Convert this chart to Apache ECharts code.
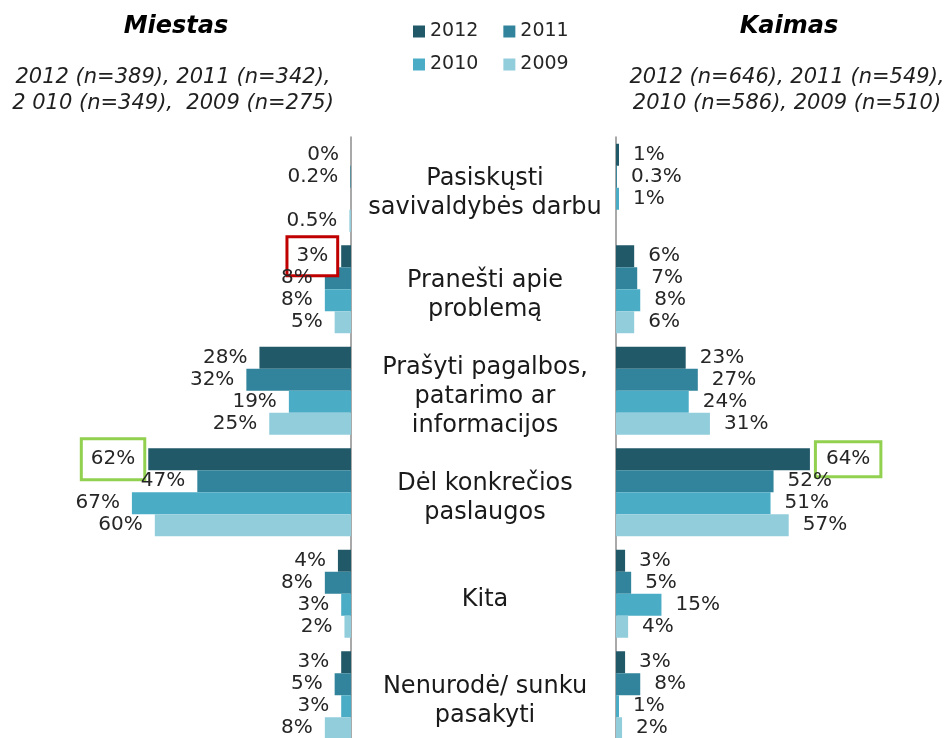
<!DOCTYPE html>
<html><head><meta charset="utf-8">
<script src="https://cdn.jsdelivr.net/npm/echarts@6/dist/echarts.min.js"></script>
<style>html,body{margin:0;padding:0;overflow:hidden;background:#fff}#c{width:951px;height:752px}</style>
</head><body><div id="c"></div>
<script>
const categories = [
  'Pasiskųsti\nsavivaldybės darbu',
  'Pranešti apie\nproblemą',
  'Prašyti pagalbos,\npatarimo ar\ninformacijos',
  'Dėl konkrečios\npaslaugos',
  'Kita',
  'Nenurodė/ sunku\npasakyti'
];
const years = ['2012', '2011', '2010', '2009'];
const miestas2012 = [0, 3, 28, 62, 4, 3];
const miestas2011 = [0.2, 8, 32, 47, 8, 5];
const miestas2010 = [null, 8, 19, 67, 3, 3];
const miestas2009 = [0.5, 5, 25, 60, 2, 8];
const kaimas2012 = [1, 6, 23, 64, 3, 3];
const kaimas2011 = [0.3, 7, 27, 52, 5, 8];
const kaimas2010 = [1, 8, 24, 51, 15, 1];
const kaimas2009 = [null, 6, 31, 57, 4, 2];
const miestasTitle = 'Miestas';
const miestasSub = ['2012 (n=389), 2011 (n=342),', '2 010 (n=349),  2009 (n=275)'];
const kaimasTitle = 'Kaimas';
const kaimasSub = ['2012 (n=646), 2011 (n=549),', '2010 (n=586), 2009 (n=510)'];
// highlighted labels: [side, yearIndex, categoryIndex, colour]
const highlights = [
  ['miestas', 0, 1, '#c00000'],
  ['miestas', 0, 3, '#92d050'],
  ['kaimas', 0, 3, '#92d050']
];

const colors = ['#215968', '#31849b', '#4bacc6', '#92cddc'];
const FONT = 'DejaVu Sans';
const miestas = [miestas2012, miestas2011, miestas2010, miestas2009];
const kaimas = [kaimas2012, kaimas2011, kaimas2010, kaimas2009];

function buildData(side, yi, arr) {
  return arr.map((v, ci) => {
    const h = highlights.find(x => x[0] === side && x[1] === yi && x[2] === ci);
    if (!h) return v;
    let pad, dist;
    if (side === 'miestas' && ci === 1) { pad = [8, 8, 8, 8]; dist = 5; }
    else if (side === 'miestas') { pad = [9, 8, 9, 8]; dist = 5; }
    else { pad = [6, 9, 6, 9]; dist = 7; }
    return {
      value: v,
      label: { borderColor: h[3], borderWidth: 3, padding: pad, distance: dist, backgroundColor: '#fff' }
    };
  });
}

const series = [];
years.forEach((y, i) => {
  series.push({
    name: y, type: 'bar', xAxisIndex: 0, yAxisIndex: 0,
    data: buildData('miestas', i, miestas[i]),
    itemStyle: { color: colors[i] },
    barGap: '0%', barCategoryGap: '13.3%',
    label: { show: true, position: 'left', distance: 12, formatter: p => p.value + '%',
      fontFamily: FONT, fontSize: 20, color: '#262626' }
  });
});
years.forEach((y, i) => {
  series.push({
    name: y, type: 'bar', xAxisIndex: 1, yAxisIndex: 1,
    data: buildData('kaimas', i, kaimas[i]),
    itemStyle: { color: colors[i] },
    barGap: '0%', barCategoryGap: '13.3%',
    label: { show: true, position: 'right', distance: 14, formatter: p => p.value + '%',
      fontFamily: FONT, fontSize: 20, color: '#262626' }
  });
});

const chart = echarts.init(document.getElementById('c'));
const legendCommon = {
  padding: 0, itemWidth: 12, itemHeight: 12, itemGap: 25, icon: 'rect',
  textStyle: { fontFamily: FONT, fontSize: 19, color: '#262626' },
  selectedMode: false
};
chart.setOption({
  animation: false,
  color: colors,
  legend: [
    Object.assign({}, legendCommon, { left: 413, top: 22, data: years.slice(0, 2) }),
    Object.assign({}, legendCommon, { left: 413, top: 55, data: years.slice(2, 4) })
  ],
  graphic: [
    { type: 'text', x: 176, y: 27, style: { text: miestasTitle, textAlign: 'center', textVerticalAlign: 'middle',
      font: 'italic bold 24px "DejaVu Sans"', fill: '#000' } },
    { type: 'text', x: 789, y: 27, style: { text: kaimasTitle, textAlign: 'center', textVerticalAlign: 'middle',
      font: 'italic bold 24px "DejaVu Sans"', fill: '#000' } },
    { type: 'text', x: 173, y: 91, style: { text: miestasSub.join('\n'), textAlign: 'center', textVerticalAlign: 'middle',
      font: 'italic 21px "DejaVu Sans"', lineHeight: 26, fill: '#1f1f1f' } },
    { type: 'text', x: 787, y: 91, style: { text: kaimasSub.join('\n'), textAlign: 'center', textVerticalAlign: 'middle',
      font: 'italic 21px "DejaVu Sans"', lineHeight: 26, fill: '#1f1f1f' } }
  ],
  grid: [
    { left: 24, width: 327, top: 137, height: 609 },
    { left: 616, width: 303, top: 137, height: 609 },
    { left: 616, width: 303, top: 143, height: 609 }
  ],
  xAxis: [
    { gridIndex: 0, type: 'value', min: 0, max: 100, inverse: true, show: false },
    { gridIndex: 1, type: 'value', min: 0, max: 100, show: false },
    { gridIndex: 2, type: 'value', min: 0, max: 100, show: false }
  ],
  yAxis: [
    { gridIndex: 0, type: 'category', data: categories, inverse: true, position: 'right',
      axisLine: { show: true, lineStyle: { color: '#8c8c8c', width: 1.5 } },
      axisTick: { show: false }, axisLabel: { show: false } },
    { gridIndex: 1, type: 'category', data: categories, inverse: true, position: 'left',
      axisLine: { show: true, lineStyle: { color: '#8c8c8c', width: 1.5 } },
      axisTick: { show: false }, axisLabel: { show: false } },
    { gridIndex: 2, type: 'category', data: categories, inverse: true, position: 'left',
      axisLine: { show: false }, axisTick: { show: false }, splitLine: { show: false },
      axisLabel: { show: true, align: 'center', margin: 131, fontFamily: FONT, fontSize: 24,
        lineHeight: 29, color: '#1a1a1a' } }
  ],
  series: series
});
</script></body></html>
